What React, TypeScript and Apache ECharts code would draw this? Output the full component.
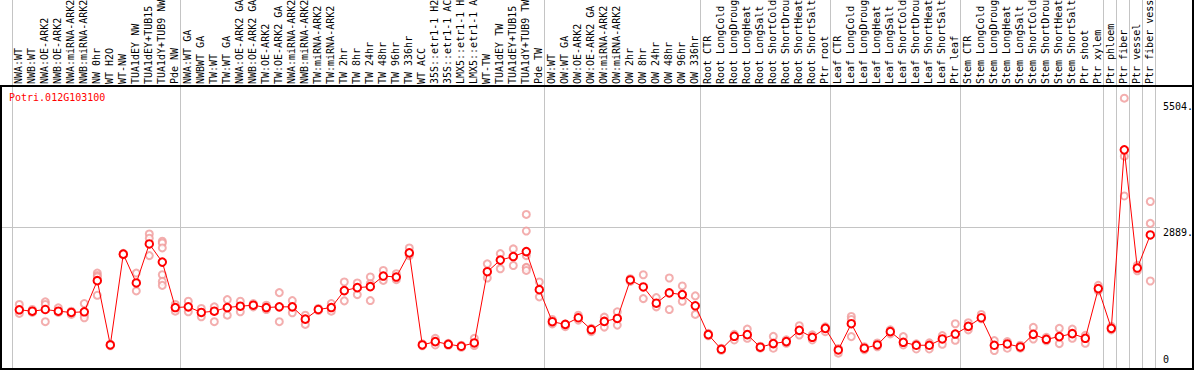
import React, { useEffect, useRef } from "react";
import * as echarts from "echarts";

const geneId = "Potri.012G103100";

const categories = [
  "NWA:WT", "NWB:WT", "NWA:OE-ARK2", "NWB:OE-ARK2", "NWA:miRNA-ARK2", "NWB:miRNA-ARK2",
  "NW 0hr", "WT H2O", "WT-NW", "TUA1dEY NW", "TUA1dEY+TUB15 NW", "TUA1dY+TUB9 NW", "Pde NW",
  "NWA:WT GA", "NWBWT GA", "TW:WT", "TW:WT GA", "NWA:OE-ARK2 GA", "NWB:OE-ARK2 GA", "TW:OE-ARK2",
  "TW:OE-ARK2 GA", "NWA:miRNA-ARK2 GA", "NWB:miRNA-ARK2 GA", "TW:miRNA-ARK2", "TW:miRNA-ARK2 GA",
  "TW 2hr", "TW 8hr", "TW 24hr", "TW 48hr", "TW 96hr", "TW 336hr", "WT ACC",
  "35S::etr1-1 H2O", "35S::etr1-1 ACC", "LMX5::etr1-1 H2O", "LMX5::etr1-1 ACC", "WT-TW",
  "TUA1dEY TW", "TUA1dEY+TUB15 TW", "TUA1dY+TUB9 TW", "Pde TW",
  "OW:WT", "OW:WT GA", "OW:OE-ARK2", "OW:OE-ARK2 GA", "OW:miRNA-ARK2", "OW:miRNA-ARK2 GA",
  "OW 2hr", "OW 8hr", "OW 24hr", "OW 48hr", "OW 96hr", "OW 336hr",
  "Root CTR", "Root LongCold", "Root LongDrought", "Root LongHeat", "Root LongSalt",
  "Root ShortCold", "Root ShortDrought", "Root ShortHeat", "Root ShortSalt", "Ptr root",
  "Leaf CTR", "Leaf LongCold", "Leaf LongDrought", "Leaf LongHeat", "Leaf LongSalt",
  "Leaf ShortCold", "Leaf ShortDrought", "Leaf ShortHeat", "Leaf ShortSalt", "Ptr leaf",
  "Stem CTR", "Stem LongCold", "Stem LongDrought", "Stem LongHeat", "Stem LongSalt",
  "Stem ShortCold", "Stem ShortDrought", "Stem ShortHeat", "Stem ShortSalt", "Ptr shoot",
  "Ptr xylem", "Ptr phloem", "Ptr fiber", "Ptr vessel", "Ptr fiber vessel",
];

const means = [
  1219, 1191, 1225, 1191, 1165, 1179, 1809, 507, 2346, 1762, 2553, 2185, 1265,
  1279, 1165, 1191, 1265, 1292, 1312, 1265, 1279, 1279, 1030, 1225, 1265,
  1607, 1668, 1688, 1903, 1883, 2372, 507, 575, 521, 481, 547, 1990, 2225, 2297, 2398, 1627,
  978, 923, 1058, 817, 984, 1044, 1823, 1682, 1352, 1561, 1527, 1300,
  716, 420, 682, 716, 461, 535, 575, 803, 662, 843,
  406, 937, 441, 507, 777, 561, 501, 501, 628, 728,
  883, 1058, 501, 527, 467, 722, 622, 676, 736, 642, 1648,
  843, 4458, 2064, 2734,
];

const replicates = [
  [1326, 1219, 1145], [1225, 1165], [1380, 1326, 978], [1259, 1165], [1191, 1125],
  [1346, 1110, 1058], [1963, 1915, 1883, 1513], [521, 491], [2362, 2332], [1963, 1601],
  [2754, 2668, 2317], [2607, 2573, 2472, 1929, 1794, 1714], [1326, 1191],
  [1392, 1179], [1245, 1078], [1279, 978], [1426, 1110], [1392, 1179], [1346, 1279],
  [1312, 1225], [1567, 978], [1406, 1159], [1110, 923], [1245, 1205], [1346, 1191],
  [1782, 1400], [1762, 1527], [1883, 1748, 1406], [2016, 1815], [1949, 1829], [2472, 2317],
  [531, 491], [642, 507], [541, 501], [501, 461], [642, 495], [2150, 1863], [2358, 2050],
  [2452, 2116], [3150, 2814, 2317, 2080, 2070, 2016], [1782, 1481],
  [1024, 933], [923, 877], [1110, 1010], [843, 777], [1070, 869], [1179, 909],
  [1849, 1794], [1929, 1446], [1467, 1279], [1863, 1225], [1702, 1392], [1501, 1125],
  [742, 692], [441, 400], [722, 608], [829, 642], [481, 441], [682, 441], [612, 541],
  [897, 708], [712, 608], [873, 777],
  [435, 340], [1084, 1024, 676], [471, 410], [547, 471], [813, 732], [676, 507],
  [531, 426], [551, 426], [696, 521], [937, 601],
  [958, 813], [1125, 1038], [595, 394], [575, 441], [501, 441], [863, 628], [662, 591],
  [843, 535], [829, 642], [702, 541], [1714, 1601],
  [883, 813], [5504, 4329, 3524], [2120, 2010], [3412, 2969, 1802],
];

// indices of categories where a new sample group starts (88 = end)
const groupStarts = [0, 13, 41, 53, 63, 73, 84, 85, 86, 87, 88];
// reference values marked on the right
const yMarks = [5504, 2889, 0];

const MONO = "DejaVu Sans Mono";

export default function App() {
  const ref = useRef<HTMLDivElement>(null);

  useEffect(() => {
    if (!ref.current) return;
    const chart = echarts.init(ref.current, null, { renderer: "svg" });

    const scatterData: [number, number][] = [];
    replicates.forEach((arr, i) => arr.forEach((v) => scatterData.push([i, v])));

    chart.setOption({
      animation: false,
      grid: { left: 12.8, width: 1144, top: 86, height: 285.9 },
      xAxis: {
        type: "category",
        position: "top",
        data: categories,
        boundaryGap: true,
        axisLine: { show: false, onZero: false },
        axisTick: { show: false },
        splitLine: { show: false },
        axisLabel: { show: false },
      },
      yAxis: { type: "value", min: 0, max: 5751, show: false },
      series: [
        {
          type: "scatter",
          data: scatterData,
          symbol: "emptyCircle",
          symbolSize: 7,
          itemStyle: { color: "#f09a9a", borderColor: "#f09a9a", borderWidth: 1.1 },
          z: 2,
          clip: false,
        },
        {
          type: "line",
          data: means,
          symbol: "emptyCircle",
          symbolSize: 7.5,
          showAllSymbol: true,
          lineStyle: { color: "#ff0000", width: 1 },
          itemStyle: { color: "#ff0000", borderColor: "#ff0000", borderWidth: 1.5 },
          z: 3,
          clip: false,
        },
      ],
    });

    const p0 = chart.convertToPixel({ xAxisIndex: 0 }, categories[0]) as number;
    const p1 = chart.convertToPixel({ xAxisIndex: 0 }, categories[1]) as number;
    const bw = p1 - p0;
    const labelOffsets = [8.7, 4.7, -10.4];

    const graphics: any[] = [];
    // category labels, reading bottom-to-top, starting just above the plot box
    categories.forEach((name, i) => {
      const x = p0 + i * bw;
      graphics.push({
        type: "text",
        x: x - 0.5,
        y: 84,
        rotation: Math.PI / 2,
        style: {
          text: name,
          fill: "#000",
          fontFamily: MONO,
          fontSize: 10,
          align: "left",
          verticalAlign: "middle",
        },
        z: 4,
      });
    });
    groupStarts.forEach((k) => {
      const x = Math.round(p0 + k * bw - bw * 0.6) + 0.5;
      graphics.push({
        type: "line",
        shape: { x1: x, y1: 0, x2: x, y2: 369 },
        style: { stroke: "#c4c4c4", lineWidth: 1 },
        z: -1,
      });
    });
    yMarks.forEach((v, i) => {
      const y = chart.convertToPixel({ yAxisIndex: 0 }, v) as number;
      if (i === 1) {
        graphics.push({
          type: "line",
          shape: { x1: 1, y1: Math.round(y) + 0.5, x2: 1160, y2: Math.round(y) + 0.5 },
          style: { stroke: "#c4c4c4", lineWidth: 1 },
          z: -1,
        });
      }
      graphics.push({
        type: "text",
        x: 1163,
        y: y + labelOffsets[i],
        style: {
          text: v === 0 ? "0" : v + ".",
          fill: "#000",
          fontFamily: MONO,
          fontSize: 10,
          verticalAlign: "middle",
          align: "left",
        },
        z: 5,
      });
    });
    graphics.push({
      type: "rect",
      shape: { x: 1, y: 86, width: 1192, height: 283 },
      style: { fill: "none", stroke: "#000", lineWidth: 2 },
      z: 10,
    });
    graphics.push({
      type: "line",
      shape: { x1: 1193, y1: 0, x2: 1193, y2: 86 },
      style: { stroke: "#000", lineWidth: 2 },
      z: 10,
    });
    graphics.push({
      type: "text",
      x: 9,
      y: 97,
      style: {
        text: geneId,
        fill: "#ff0000",
        fontFamily: MONO,
        fontSize: 10,
        verticalAlign: "middle",
        align: "left",
      },
      z: 5,
    });
    chart.setOption({ graphic: graphics });

    return () => chart.dispose();
  }, []);

  return (
    <div
      ref={ref}
      style={{ position: "fixed", left: 0, top: 0, width: 1194, height: 370, background: "#fff" }}
    />
  );
}
